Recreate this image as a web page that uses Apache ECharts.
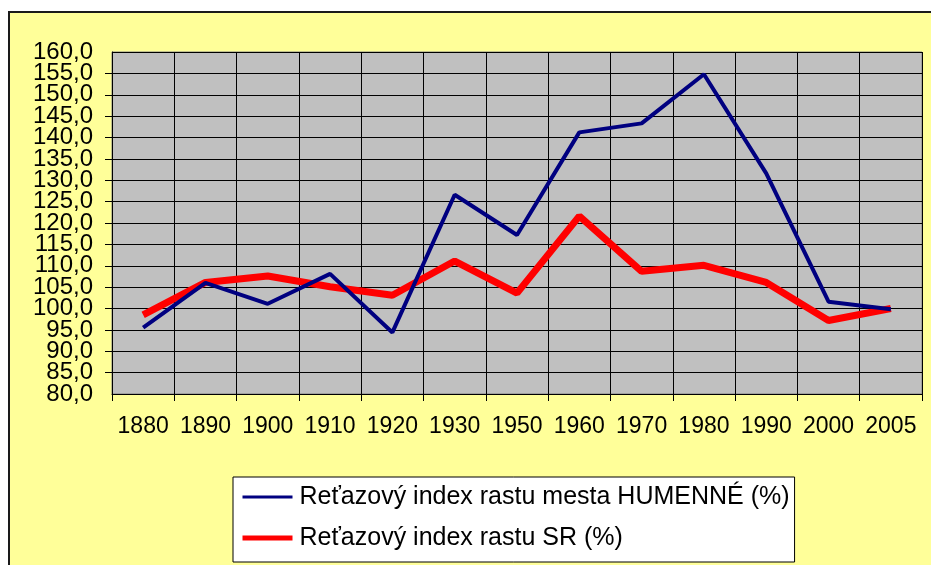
<!DOCTYPE html>
<html>
<head>
<meta charset="utf-8">
<script src="https://cdn.jsdelivr.net/npm/echarts@6/dist/echarts.min.js"></script>
<style>
  html, body { margin: 0; padding: 0; background: #ffffff; }
  #chart { width: 931px; height: 565px; }
</style>
</head>
<body>
<div id="chart"></div>
<script>
const years = ['1880', '1890', '1900', '1910', '1920', '1930', '1950', '1960', '1970', '1980', '1990', '2000', '2005']
const humenne = [95.5, 106.0, 101.1, 108.1, 94.4, 126.6, 117.2, 141.2, 143.3, 154.8, 131.6, 101.6, 99.8]
const slovakia = [98.5, 106.1, 107.6, 105.1, 103.1, 111.1, 103.6, 121.6, 108.7, 110.1, 106.1, 97.2, 100.0]
const seriesNames = ['Reťazový index rastu mesta HUMENNÉ (%)', 'Reťazový index rastu SR (%)']
const yMin = 80
const yMax = 160
const yStep = 5

const font = '"Liberation Sans", Arial, sans-serif'
const fmt = (v) => v.toFixed(1).replace('.', ',')
const labelStyle = { fontFamily: font, fontSize: 24, lineHeight: 20, color: '#000', margin: 19 }

const chart = echarts.init(document.getElementById('chart'))

chart.setOption({
  backgroundColor: '#ffffff',
  animation: false,
  graphic: [
    {
      type: 'rect',
      z: -10,
      silent: true,
      shape: { x: 9, y: 12, width: 940, height: 600 },
      style: { fill: '#FFFF99', stroke: '#1a1a1a', lineWidth: 2 }
    }
  ],
  grid: {
    left: 112,
    right: 9,
    top: 52,
    bottom: 171,
    show: true,
    backgroundColor: '#C0C0C0',
    borderColor: '#808080',
    borderWidth: 1
  },
  legend: {
    left: 233,
    top: 477,
    orient: 'vertical',
    backgroundColor: '#ffffff',
    borderColor: '#000000',
    borderWidth: 1,
    padding: [5, 5, 9, 7],
    itemWidth: 50,
    itemHeight: 14,
    itemGap: 11,
    itemStyle: { opacity: 0 },
    textStyle: { fontFamily: font, fontSize: 25, color: '#000', lineHeight: 30, padding: [0, 0, 0, 2] },
    data: [
      { name: seriesNames[0], lineStyle: { width: 3 } },
      { name: seriesNames[1], lineStyle: { width: 5 } }
    ]
  },
  xAxis: {
    type: 'category',
    data: years,
    boundaryGap: true,
    axisLine: { lineStyle: { color: '#000', width: 1 } },
    axisTick: { show: true, inside: false, length: 7, interval: 0, lineStyle: { color: '#000' } },
    axisLabel: { fontFamily: font, fontSize: 23, color: '#000', margin: 21, interval: 0 },
    splitLine: { show: true, interval: 0, lineStyle: { color: '#000', width: 1 } }
  },
  yAxis: [
    {
      type: 'value',
      min: yMin,
      max: yMax,
      interval: yStep,
      axisLine: { show: true, lineStyle: { color: '#000', width: 1 } },
      axisTick: { show: true, inside: false, length: 7, lineStyle: { color: '#000' } },
      axisLabel: { ...labelStyle, showMinLabel: false, showMaxLabel: false, formatter: fmt },
      splitLine: { show: true, lineStyle: { color: '#000', width: 1 } }
    },
    {
      // carries only the end labels (80,0 and 160,0) so they are not dropped for overlap
      type: 'value',
      position: 'left',
      offset: 0,
      min: yMin,
      max: yMax,
      interval: yStep,
      axisLine: { show: false },
      axisTick: { show: false },
      splitLine: { show: false },
      axisLabel: {
        ...labelStyle,
        formatter: (v) => (v === yMin || v === yMax ? fmt(v) : '')
      }
    }
  ],
  series: [
    {
      name: seriesNames[0],
      type: 'line',
      data: humenne,
      symbol: 'none',
      lineStyle: { color: '#000080', width: 4 },
      itemStyle: { color: '#000080' },
      z: 3
    },
    {
      name: seriesNames[1],
      type: 'line',
      data: slovakia,
      symbol: 'none',
      lineStyle: { color: '#FF0000', width: 7 },
      itemStyle: { color: '#FF0000' },
      z: 2
    }
  ]
})
</script>
</body>
</html>
